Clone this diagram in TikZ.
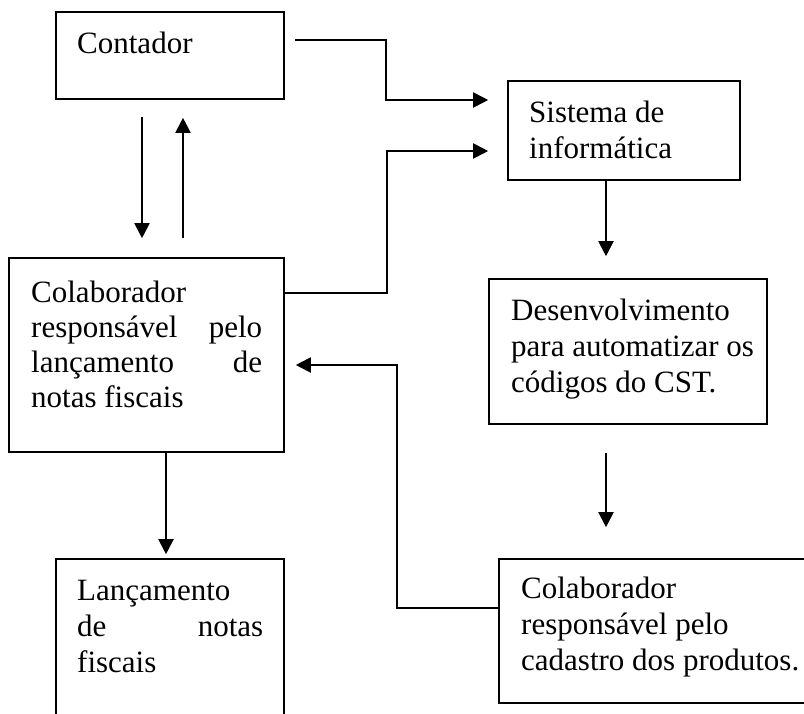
\documentclass[tikz,border=0pt]{standalone}
\usepackage{fontspec}
\setmainfont{Liberation Serif}
\usetikzlibrary{arrows.meta}
\tikzset{
  box/.style={draw=black, line width=1.6pt, rectangle, inner sep=0pt},
  txt/.style={anchor=base west, inner sep=0pt, font=\fontsize{31}{36}\selectfont},
  arr/.style={line width=2pt, -{Triangle[length=15pt,width=15pt]}},
  conn/.style={line width=2pt}
}
\begin{document}
\begin{tikzpicture}[x=1pt,y=-1pt]
\useasboundingbox (0,0) rectangle (804,713);
% boxes
\node[box, minimum width=228pt, minimum height=87pt] (cont) at (170,55.5) {};
\node[box, minimum width=232pt, minimum height=99pt] (sis) at (624,130.5) {};
\node[box, minimum width=275pt, minimum height=194pt] (col1) at (146.5,355) {};
\node[box, minimum width=278pt, minimum height=145pt] (dev) at (628,351.5) {};
\node[box, minimum width=331pt, minimum height=144pt] (col2) at (664.5,631) {};
\node[box, minimum width=228pt, minimum height=171pt] (lan) at (170,644.5) {};
% texts
\node[txt] (tcont) at (77,53) {\parbox[t]{300pt}{\raggedright Contador}};
\node[txt] (tsis) at (529,122) {\parbox[t]{260pt}{\raggedright Sistema de\\ informática}};
\node[txt, font=\fontsize{31}{35}\selectfont] (tcol1) at (31,302) {\parbox[t]{231pt}{\raggedright Colaborador\\ responsável\hfill pelo\\ lançamento\hfill de\\ notas fiscais}};
\node[txt] (tdev) at (511,320) {\parbox[t]{300pt}{\raggedright Desenvolvimento\\ para automatizar os\\ códigos do CST.}};
\node[txt] (tcol2) at (521,598) {\parbox[t]{300pt}{\raggedright Colaborador\\ responsável pelo\\ cadastro dos produtos.}};
\node[txt] (tlan) at (77,600) {\parbox[t]{186pt}{\raggedright Lançamento\\ de\hfill notas\\ fiscais}};
% connectors
\draw[arr] ([xshift=10pt,yshift=15.5pt]cont.east) -| (386,100) -- ([xshift=-19pt,yshift=30.5pt]sis.west);
\draw[arr] ([yshift=62pt]col1.east) -| (387,151) -- ([xshift=-19pt,yshift=-20.5pt]sis.west);
\draw[arr] ([xshift=-28pt,yshift=-17pt]cont.south) -- ([xshift=-4.5pt,yshift=19pt]col1.north);
\draw[arr] ([xshift=36.5pt,yshift=19pt]col1.north) -- ([xshift=13pt,yshift=-18pt]cont.south);
\draw[arr] ([xshift=-18pt]sis.south) -- ([xshift=-22pt,yshift=22pt]dev.north);
\draw[arr] ([xshift=-22pt,yshift=-28pt]dev.south) -- ([xshift=-58.5pt,yshift=31pt]col2.north);
\draw[arr] ([yshift=23pt]col2.west) -| (397,365) -- ([xshift=11pt,yshift=-10pt]col1.east);
\draw[arr] ([xshift=19.5pt]col1.south) -- ([xshift=-4pt,yshift=4pt]lan.north);
\end{tikzpicture}
\end{document}
